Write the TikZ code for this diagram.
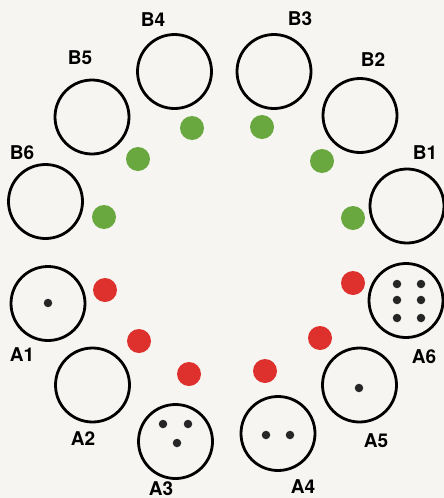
\documentclass[tikz,border=0pt]{standalone}
\usepackage{fontspec}
\setmainfont{TeX Gyre Heros}
\definecolor{bg}{RGB}{246,245,241}
\definecolor{gdot}{RGB}{104,168,62}
\definecolor{rdot}{RGB}{222,48,44}
\begin{document}
\begin{tikzpicture}[x=1pt,y=-1pt,
  sock/.style={circle,draw=black,line width=2.8pt,minimum size=74pt,inner sep=0pt},
  gled/.style={circle,fill=gdot,minimum size=24pt,inner sep=0pt},
  rled/.style={circle,fill=rdot,minimum size=24pt,inner sep=0pt},
  pin/.style={circle,fill=black!85,minimum size=8.5pt,inner sep=0pt},
  lbl/.style={font=\fontsize{19}{19}\selectfont\bfseries,inner sep=0pt}]
\fill[bg] (0,0) rectangle (444,498);
\useasboundingbox (0,0) rectangle (444,498);
% B sockets
\node[sock] (b1) at (407,206) {};
\node[sock] (b2) at (360,115.5) {};
\node[sock] (b3) at (274,71.5) {};
\node[sock] (b4) at (174.5,71.5) {};
\node[sock] (b5) at (92,117) {};
\node[sock] (b6) at (45.5,201.5) {};
% A sockets
\node[sock] (a1) at (48,303.5) {};
\node[sock] (a2) at (92.5,385) {};
\node[sock] (a3) at (175.5,441.5) {};
\node[sock] (a4) at (278,433.5) {};
\node[sock] (a5) at (359.5,385) {};
\node[sock] (a6) at (406,300.5) {};
% labels
\node[lbl] (lb1) at (425,153) {B1};
\node[lbl] (lb2) at (373,60) {B2};
\node[lbl] (lb3) at (300,19) {B3};
\node[lbl] (lb4) at (153,20) {B4};
\node[lbl] (lb5) at (80,58) {B5};
\node[lbl] (lb6) at (22,153) {B6};
\node[lbl] (la1) at (22,355) {A1};
\node[lbl] (la2) at (83,439) {A2};
\node[lbl] (la3) at (161,488.5) {A3};
\node[lbl] (la4) at (303,487) {A4};
\node[lbl] (la5) at (376,441) {A5};
\node[lbl] (la6) at (424,357) {A6};
% green LEDs
\node[gled] (g1) at (353,218) {};
\node[gled] (g2) at (322,161) {};
\node[gled] (g3) at (262,127) {};
\node[gled] (g4) at (192,128) {};
\node[gled] (g5) at (138,159) {};
\node[gled] (g6) at (104,217) {};
% red LEDs
\node[rled] (r1) at (105,290) {};
\node[rled] (r2) at (139,341) {};
\node[rled] (r3) at (189,374) {};
\node[rled] (r4) at (265,371) {};
\node[rled] (r5) at (320,338) {};
\node[rled] (r6) at (353,283) {};
% pins
\node[pin] (p1) at (48,303) {};
\node[pin] (p3a) at (163,424) {};
\node[pin] (p3b) at (188,424) {};
\node[pin] (p3c) at (177,443) {};
\node[pin] (p4a) at (266,435) {};
\node[pin] (p4b) at (290,435) {};
\node[pin] (p5) at (359,388) {};
\node[pin] (p6a) at (397,284) {};
\node[pin] (p6b) at (421,284) {};
\node[pin] (p6c) at (397,300) {};
\node[pin] (p6d) at (421,300) {};
\node[pin] (p6e) at (397,318) {};
\node[pin] (p6f) at (421,318) {};
\end{tikzpicture}
\end{document}
